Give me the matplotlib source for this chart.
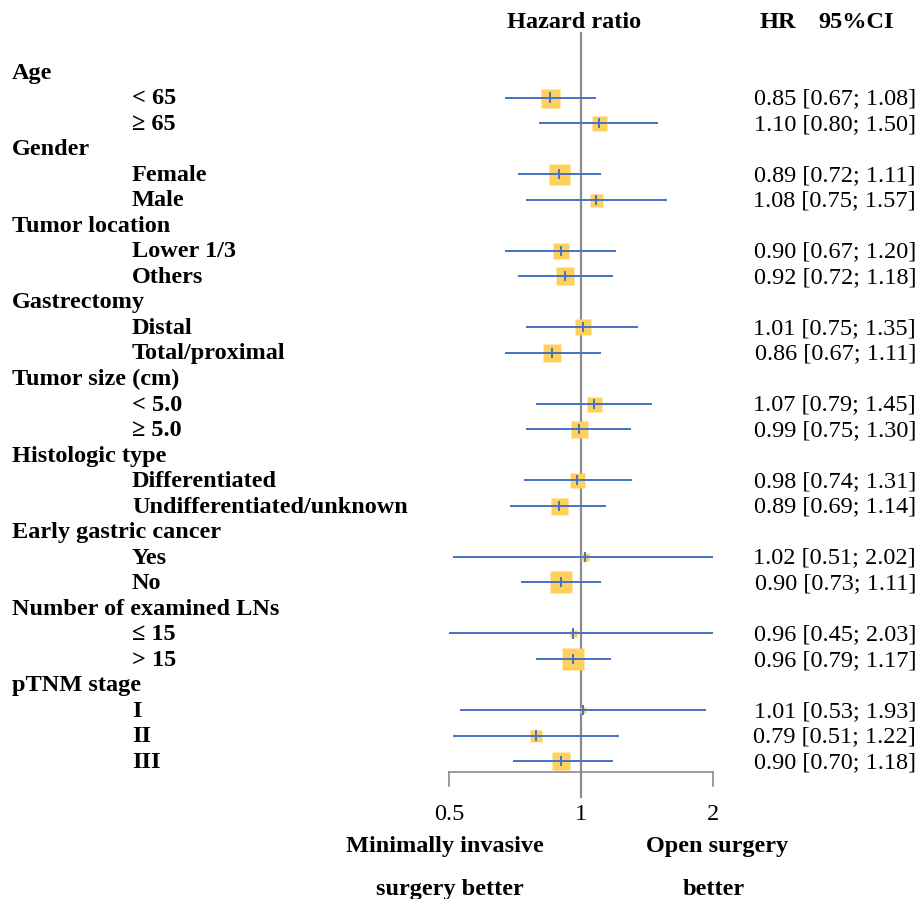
import numpy as np
import matplotlib
matplotlib.use("Agg")
import matplotlib.pyplot as plt
import matplotlib.transforms as mtransforms

# Data
groups = ["Age", "Gender", "Tumor location", "Gastrectomy", "Tumor size (cm)",
          "Histologic type", "Early gastric cancer", "Number of examined LNs", "pTNM stage"]
subgroups = [
    ["< 65", "\u2265 65"],
    ["Female", "Male"],
    ["Lower 1/3", "Others"],
    ["Distal", "Total/proximal"],
    ["< 5.0", "\u2265 5.0"],
    ["Differentiated", "Undifferentiated/unknown"],
    ["Yes", "No"],
    ["\u2264 15", "> 15"],
    ["I", "II", "III"],
]
hr = [0.85, 1.10, 0.89, 1.08, 0.90, 0.92, 1.01, 0.86, 1.07, 0.99,
      0.98, 0.89, 1.02, 0.90, 0.96, 0.96, 1.01, 0.79, 0.90]
lower = [0.67, 0.80, 0.72, 0.75, 0.67, 0.72, 0.75, 0.67, 0.79, 0.75,
         0.74, 0.69, 0.51, 0.73, 0.45, 0.79, 0.53, 0.51, 0.70]
upper = [1.08, 1.50, 1.11, 1.57, 1.20, 1.18, 1.35, 1.11, 1.45, 1.30,
         1.31, 1.14, 2.02, 1.11, 2.03, 1.17, 1.93, 1.22, 1.18]
# relative weight -> box width (pixels)
weight = [19, 15, 21, 13, 16, 18, 16, 18, 15, 17,
          15, 17, 8, 22, 7, 22, 6, 12, 18]
xticks = [0.5, 1, 2]
xticklabels = ["0.5", "1", "2"]

W, H = 917, 899
ROW0, ROWH = 72, 25.52  # pixel y of first row, row height


def row(py):
    return (py - ROW0) / ROWH


plt.rcParams['font.family'] = ['Liberation Serif', 'DejaVu Serif']
FS = 17.5
BLUE = "#4472C4"
GOLD = "#FFD15C"
GREY = "#8C8C8C"

fig = plt.figure(figsize=(W / 100, H / 100), dpi=100)
ax = fig.add_axes([449 / W, 0, (713 - 449) / W, 1])
ax.set_xscale("log")
ax.set_xlim(0.5, 2)
ax.set_ylim(row(H), row(0))
ax.axis("off")

lbl = mtransforms.blended_transform_factory(fig.transFigure, ax.transData)

# build row positions
r = 0
k = 0
for g, subs in zip(groups, subgroups):
    ax.text(12 / W, r + 0.05, g, transform=lbl, ha="left", va="center",
            fontsize=FS, fontweight="bold")
    r += 1
    for s in subs:
        ax.text(132 / W, r + 0.05, s, transform=lbl, ha="left", va="center",
                fontsize=FS, fontweight="bold")
        ax.plot([lower[k], upper[k]], [r, r], color=BLUE, lw=1.4,
                solid_capstyle="butt", zorder=3)
        ax.plot(hr[k], r, marker="s", ms=weight[k] * 0.72, color=GOLD,
                mec="none", zorder=2)
        ax.plot([hr[k], hr[k]], [r - 0.16, r + 0.16], color=BLUE, lw=1.4, zorder=4)
        ax.text(916 / W, r + 0.05, f"{hr[k]:.2f} [{lower[k]:.2f}; {upper[k]:.2f}]",
                transform=lbl, ha="right", va="center", fontsize=FS)
        r += 1
        k += 1

# reference line and bracket axis
ax.plot([1, 1], [row(33), row(797)], color=GREY, lw=1.6, zorder=1, clip_on=False)
ax.plot([xticks[0], xticks[-1]], [row(772), row(772)], color=GREY, lw=1.2, clip_on=False)
for t in (xticks[0], xticks[-1]):
    ax.plot([t, t], [row(772), row(786)], color=GREY, lw=1.2, clip_on=False)
for t, tl in zip(xticks, xticklabels):
    ax.text(t, row(814), tl, ha="center", va="center", fontsize=FS, clip_on=False)

# headers
hdr = mtransforms.blended_transform_factory(fig.transFigure, ax.transData)
ax.text(574 / W, row(23), "Hazard ratio", transform=hdr, ha="center", va="center",
        fontsize=FS, fontweight="bold")
ax.text(778 / W, row(23), "HR", transform=hdr, ha="center", va="center",
        fontsize=FS, fontweight="bold")
ax.text(856 / W, row(23), "95%CI", transform=hdr, ha="center", va="center",
        fontsize=FS, fontweight="bold")

# bottom direction labels
ax.text(445 / W, row(846), "Minimally invasive", transform=hdr, ha="center",
        va="center", fontsize=FS, fontweight="bold")
ax.text(450 / W, row(889), "surgery better", transform=hdr, ha="center",
        va="center", fontsize=FS, fontweight="bold")
ax.text(717 / W, row(846), "Open surgery", transform=hdr, ha="center",
        va="center", fontsize=FS, fontweight="bold")
ax.text(714 / W, row(889), "better", transform=hdr, ha="center",
        va="center", fontsize=FS, fontweight="bold")

fig.savefig("out.png", dpi=100)
